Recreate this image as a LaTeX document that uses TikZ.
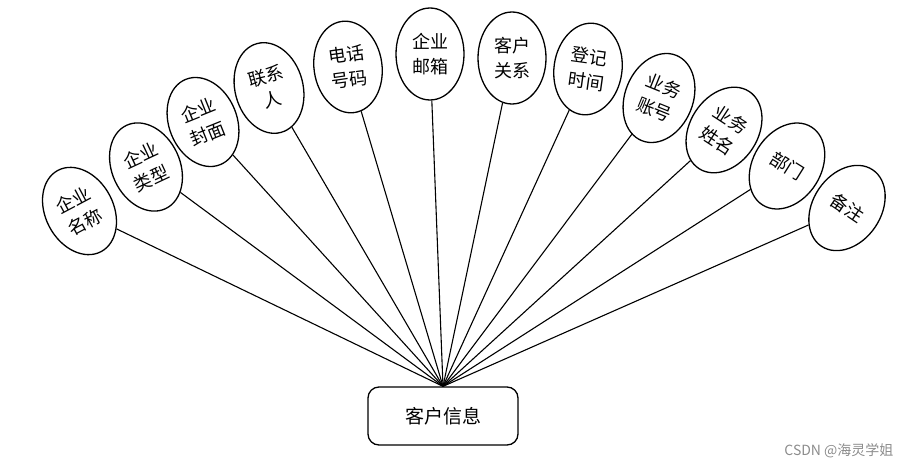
\documentclass[tikz,border=0pt]{standalone}
\usepackage{fontspec}
\setmainfont{Noto Sans CJK SC}
\usetikzlibrary{shapes.geometric}
\tikzset{
  attr/.style={ellipse, draw, line width=1.3pt, minimum width=68pt, minimum height=92pt,
    inner sep=0pt, align=center, font=\fontsize{18}{25}\selectfont},
  entity/.style={rectangle, rounded corners=11pt, draw, line width=1.3pt,
    minimum width=150pt, minimum height=58pt, font=\fontsize{19}{22}\selectfont},
  link/.style={line width=1.1pt},
  wmark/.style={text=black!45, font=\fontsize{14}{16}\selectfont}
}
\begin{document}
\begin{tikzpicture}[x=1pt,y=-1pt]
\useasboundingbox (0,0) rectangle (912,468);
\node[entity] (box) at (443,416) {客户信息};
\coordinate (hub) at (box.north);
\node[attr, rotate=28]  (a1)  at (79.5,211) {企业\\名称};
\node[attr, rotate=25]  (a2)  at (146,167) {企业\\类型};
\node[attr, rotate=22]  (a3)  at (203,122) {企业\\封面};
\node[attr, rotate=15]  (a4)  at (269,88) {联系\\人};
\node[attr, rotate=8]   (a5)  at (348,67) {电话\\号码};
\node[attr, rotate=0]   (a6)  at (430,54) {企业\\邮箱};
\node[attr, rotate=0]   (a7)  at (512,58) {客户\\关系};
\node[attr, rotate=-8]  (a8)  at (588,69) {登记\\时间};
\node[attr, rotate=-22] (a9)  at (659,98) {业务\\账号};
\node[attr, rotate=-33] (a10) at (724,130) {业务\\姓名};
\node[attr, rotate=-32] (a11) at (787,166) {部门};
\node[attr, rotate=-34] (a12) at (847,208) {备注};
\foreach \i in {1,...,12} \draw[link] (a\i) -- (hub);
\node[wmark, anchor=east] (wm) at (897,451) {CSDN @海灵学姐};
\end{tikzpicture}
\end{document}
